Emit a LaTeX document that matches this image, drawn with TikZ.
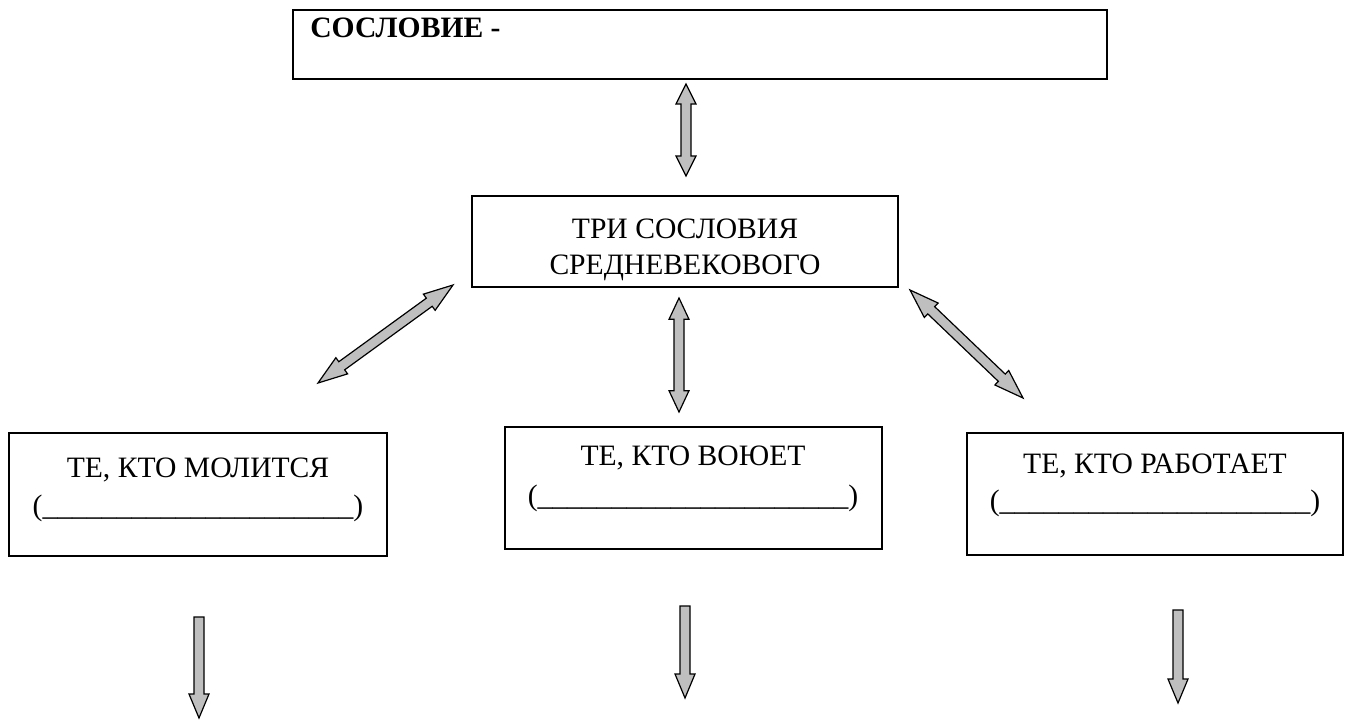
\documentclass[tikz,border=0pt]{standalone}
\usepackage{fontspec}
\setmainfont{Liberation Serif}
\usetikzlibrary{calc}
\newcommand\blank{(\_\_\_\_\_\_\_\_\_\_\_\_\_\_\_\_\_\_\_\_\_)}
% shaft half width and head half width (pt)
\def\hs{3.75}
\def\hh{7.5}
\newcommand\twoway[3][16]{%
  \pgfmathsetmacro\hk{#1}%
  \pgfmathsetmacro\rA{veclen(\hk,\hh)}\pgfmathsetmacro\tA{atan(\hh/\hk)}%
  \pgfmathsetmacro\rB{veclen(\hk,\hs)}\pgfmathsetmacro\tB{atan(\hs/\hk)}%
  \filldraw[blockarrow] (#2) -- ($(#2)!\rA pt!\tA:(#3)$) -- ($(#2)!\rB pt!\tB:(#3)$)
    -- ($(#3)!\rB pt!-\tB:(#2)$) -- ($(#3)!\rA pt!-\tA:(#2)$) -- (#3)
    -- ($(#3)!\rA pt!\tA:(#2)$) -- ($(#3)!\rB pt!\tB:(#2)$)
    -- ($(#2)!\rB pt!-\tB:(#3)$) -- ($(#2)!\rA pt!-\tA:(#3)$) -- cycle;}
\newcommand\oneway[3][18]{%
  \pgfmathsetmacro\hk{#1}%
  \pgfmathsetmacro\rA{veclen(\hk,\hh)}\pgfmathsetmacro\tA{atan(\hh/\hk)}%
  \pgfmathsetmacro\rB{veclen(\hk,\hs)}\pgfmathsetmacro\tB{atan(\hs/\hk)}%
  \filldraw[blockarrow] ($(#2)!\hs pt!90:(#3)$) -- ($(#3)!\rB pt!-\tB:(#2)$)
    -- ($(#3)!\rA pt!-\tA:(#2)$) -- (#3) -- ($(#3)!\rA pt!\tA:(#2)$)
    -- ($(#3)!\rB pt!\tB:(#2)$) -- ($(#2)!\hs pt!-90:(#3)$) -- cycle;}
\begin{document}
\begin{tikzpicture}[x=0.75pt,y=-0.75pt,
  box/.style={draw=black, line width=1pt, inner sep=0pt, fill=white},
  topbox/.style={draw=black, line width=2.1pt, inner sep=0pt},
  label/.style={anchor=base, inner sep=0pt, font=\fontsize{22.2}{26}\selectfont},
  blockarrow/.style={draw=black, fill=black!25, line width=0.9pt, line join=miter}]
\useasboundingbox[fill=white] (0,0) rectangle (1351,722);
% boxes
\node[topbox, minimum width=610.5pt, minimum height=51.75pt] (def) at (700,44.5) {};
\node[box, minimum width=319.5pt, minimum height=68.25pt] (three) at (685,241.5) {};
\node[box, minimum width=283.5pt, minimum height=92.25pt] (pray) at (198,494.5) {};
\node[box, minimum width=282.75pt, minimum height=91.5pt] (fight) at (693.5,488) {};
\node[box, minimum width=282pt, minimum height=91.5pt] (work) at (1155,494) {};
% texts
\node[label, anchor=base west, font=\fontsize{22.2}{26}\selectfont\bfseries] (deft) at (310,37) {СОСЛОВИЕ -};
\node[label] (t1) at (685,238) {ТРИ СОСЛОВИЯ};
\node[label] (t2) at (685,274) {СРЕДНЕВЕКОВОГО};
\node[label] (p1) at (198,477) {ТЕ, КТО МОЛИТСЯ};
\node[label] (p2) at (198,515) {\blank};
\node[label] (f1) at (693,465) {ТЕ, КТО ВОЮЕТ};
\node[label] (f2) at (693,505) {\blank};
\node[label] (w1) at (1155,473) {ТЕ, КТО РАБОТАЕТ};
\node[label] (w2) at (1155,510) {\blank};
% arrow end points
\coordinate (a1s) at (686,84);  \coordinate (a1e) at (686,176);
\coordinate (a2s) at (318,383); \coordinate (a2e) at (453,285);
\coordinate (a3s) at (679,298); \coordinate (a3e) at (679,412);
\coordinate (a4s) at (910,290); \coordinate (a4e) at (1023,398);
\coordinate (b1s) at (199,617); \coordinate (b1e) at (199,718);
\coordinate (b2s) at (685,606); \coordinate (b2e) at (685,698);
\coordinate (b3s) at (1178,610); \coordinate (b3e) at (1178,703);
\twoway[15]{a1s}{a1e}
\twoway[22]{a2s}{a2e}
\twoway[16]{a3s}{a3e}
\twoway[22]{a4s}{a4e}
\oneway[18]{b1s}{b1e}
\oneway[18]{b2s}{b2e}
\oneway[18]{b3s}{b3e}
\end{tikzpicture}
\end{document}
